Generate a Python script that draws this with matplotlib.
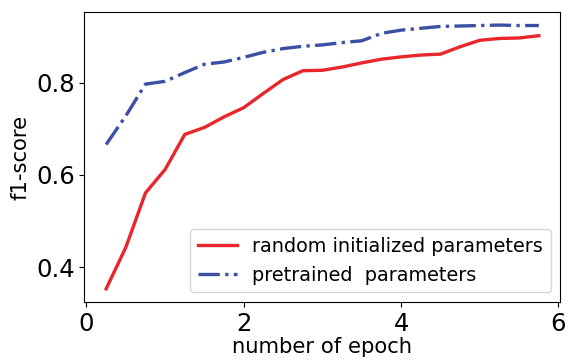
import matplotlib
matplotlib.use('Agg')
import matplotlib.pyplot as plt

# epochs (evaluated every quarter epoch)
epochs = [0.25, 0.5, 0.75, 1.0, 1.25, 1.5, 1.75, 2.0, 2.25, 2.5, 2.75, 3.0,
          3.25, 3.5, 3.75, 4.0, 4.25, 4.5, 4.75, 5.0, 5.25, 5.5, 5.75]

f1_random = [0.353, 0.443, 0.561, 0.612, 0.688, 0.703, 0.726, 0.746, 0.777,
             0.807, 0.826, 0.827, 0.834, 0.843, 0.851, 0.856, 0.860, 0.862,
             0.878, 0.892, 0.896, 0.897, 0.902]

f1_pretrained = [0.666, 0.728, 0.797, 0.803, 0.822, 0.840, 0.845, 0.855, 0.866,
                 0.874, 0.879, 0.882, 0.887, 0.891, 0.907, 0.914, 0.918, 0.922,
                 0.923, 0.924, 0.925, 0.924, 0.924]

fig = plt.figure(figsize=(5.69, 3.6), dpi=100)
ax = fig.add_axes([0.1485, 0.161, 0.8365, 0.806])

ax.plot(epochs, f1_random, color='#e8262b', linewidth=2.4, label='random initialized parameters')
ax.plot(epochs, f1_pretrained, color='#3b4fa5', linewidth=2.4, linestyle='-.', label='pretrained  parameters')

ax.set_xticks([0, 2, 4, 6])
ax.set_yticks([0.4, 0.6, 0.8])
ax.tick_params(labelsize=17.5)
ax.set_xlabel('number of epoch', fontsize=15.2, labelpad=1)
ax.set_ylabel('f1-score', fontsize=15.2, labelpad=4)
ax.legend(loc='lower right', fontsize=13.9)

fig.savefig('out.png', dpi=100)
